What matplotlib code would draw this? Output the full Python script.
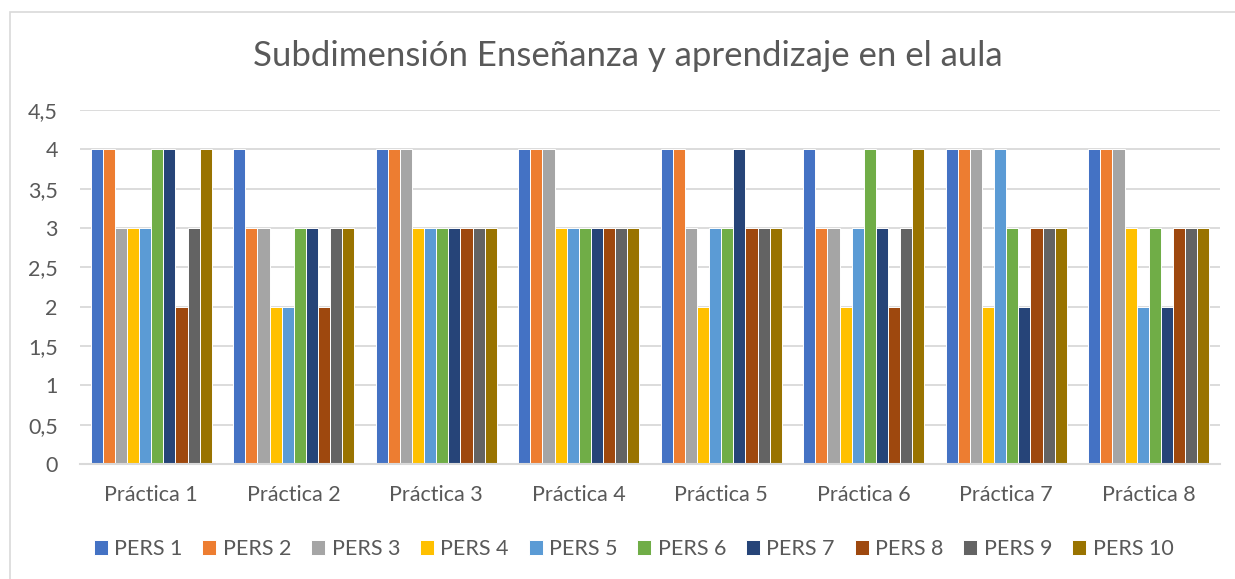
import numpy as np
import matplotlib
matplotlib.use("Agg")
import matplotlib.pyplot as plt
from matplotlib.patches import Rectangle

plt.rcParams['font.family'] = ['Lato', 'DejaVu Sans']

# Chart data
practicas = ["Práctica 1", "Práctica 2", "Práctica 3", "Práctica 4",
             "Práctica 5", "Práctica 6", "Práctica 7", "Práctica 8"]
pers_1 = [4, 4, 4, 4, 4, 4, 4, 4]
pers_2 = [4, 3, 4, 4, 4, 3, 4, 4]
pers_3 = [3, 3, 4, 4, 3, 3, 4, 4]
pers_4 = [3, 2, 3, 3, 2, 2, 2, 3]
pers_5 = [3, 2, 3, 3, 3, 3, 4, 2]
pers_6 = [4, 3, 3, 3, 3, 4, 3, 3]
pers_7 = [4, 3, 3, 3, 4, 3, 2, 2]
pers_8 = [2, 2, 3, 3, 3, 2, 3, 3]
pers_9 = [3, 3, 3, 3, 3, 3, 3, 3]
pers_10 = [4, 3, 3, 3, 3, 4, 3, 3]
series_names = ["PERS 1", "PERS 2", "PERS 3", "PERS 4", "PERS 5",
                "PERS 6", "PERS 7", "PERS 8", "PERS 9", "PERS 10"]

series = [pers_1, pers_2, pers_3, pers_4, pers_5,
          pers_6, pers_7, pers_8, pers_9, pers_10]
colors = ["#4472C4", "#ED7D31", "#A5A5A5", "#FFC000", "#5B9BD5",
          "#70AD47", "#264478", "#9E480E", "#636363", "#997300"]
text_color = "#595959"
grid_color = "#D9D9D9"

fig = plt.figure(figsize=(12.35, 5.79), dpi=100)
# outer chart border
fig.patches.append(Rectangle((10 / 1235, -0.01), 1.0, 1 - 12 / 579 + 0.01,
                             transform=fig.transFigure, fill=False,
                             edgecolor=grid_color, linewidth=1.2))

ax = fig.add_axes([80 / 1235, 1 - 464 / 579, 1140 / 1235, 354 / 579])

x = np.arange(len(practicas))
n = len(series)
bar_w = 0.848 / n
for i, (vals, name, col) in enumerate(zip(series, series_names, colors)):
    offset = (i - (n - 1) / 2) * bar_w
    ax.bar(x + offset, vals, width=bar_w, color=col, label=name,
           edgecolor="white", linewidth=0.7, zorder=3)

ax.set_xlim(-0.5, len(practicas) - 0.5)
ax.set_ylim(0, 4.5)
ax.set_yticks(np.arange(0, 4.51, 0.5))
ax.set_yticklabels([f"{v:g}".replace(".", ",") for v in np.arange(0, 4.51, 0.5)])
ax.set_xticks(x)
ax.set_xticklabels(practicas)
ax.tick_params(axis="both", length=0, labelsize=15.5, colors=text_color)
ax.tick_params(axis="x", pad=15)
ax.tick_params(axis="y", pad=16)
ax.grid(axis="y", color=grid_color, linewidth=1.3, zorder=0)
for s in ["top", "right", "left"]:
    ax.spines[s].set_visible(False)
ax.spines["bottom"].set_color(grid_color)
ax.spines["bottom"].set_linewidth(1.5)
ax.spines["bottom"].set_zorder(4)

fig.text(0.508, 1 - 56 / 579, "Subdimensión Enseñanza y aprendizaje en el aula",
         ha="center", va="center", fontsize=25, color=text_color)

fig.legend(loc="center", bbox_to_anchor=(0.513, 1 - 549 / 579), ncol=10,
           frameon=False, fontsize=15.5, labelcolor=text_color,
           handlelength=0.65, handleheight=0.65, handletextpad=0.3,
           columnspacing=0.92)

fig.savefig("out.png", dpi=100)
